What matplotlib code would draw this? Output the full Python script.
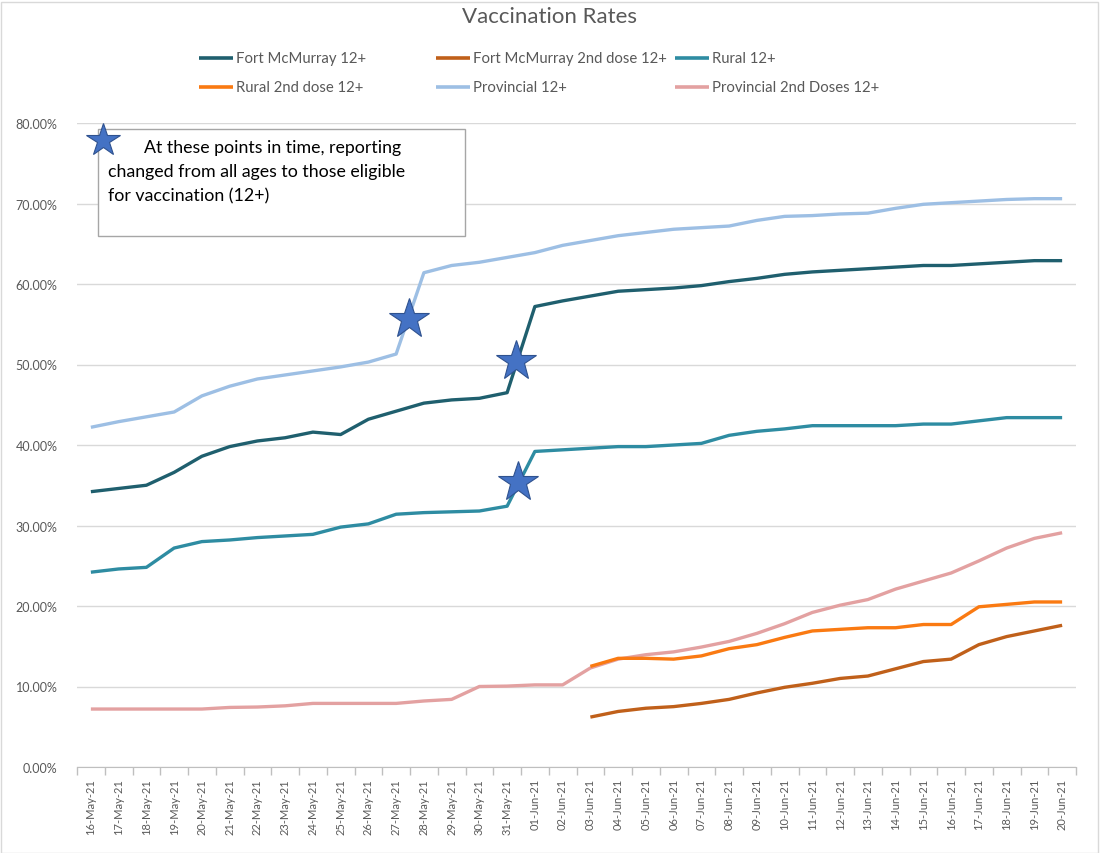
import matplotlib
matplotlib.use("Agg")
import matplotlib.pyplot as plt
from matplotlib.lines import Line2D
from matplotlib.patches import Rectangle
from matplotlib.ticker import FuncFormatter, FixedLocator
import numpy as np

plt.rcParams['font.family'] = ['Lato', 'DejaVu Sans']

dates = ["16-May-21", "17-May-21", "18-May-21", "19-May-21", "20-May-21", "21-May-21",
         "22-May-21", "23-May-21", "24-May-21", "25-May-21", "26-May-21", "27-May-21",
         "28-May-21", "29-May-21", "30-May-21", "31-May-21", "01-Jun-21", "02-Jun-21",
         "03-Jun-21", "04-Jun-21", "05-Jun-21", "06-Jun-21", "07-Jun-21", "08-Jun-21",
         "09-Jun-21", "10-Jun-21", "11-Jun-21", "12-Jun-21", "13-Jun-21", "14-Jun-21",
         "15-Jun-21", "16-Jun-21", "17-Jun-21", "18-Jun-21", "19-Jun-21", "20-Jun-21"]

N = np.nan
fort_mcmurray_12 = [34.2, 34.6, 35.0, 36.6, 38.6, 39.8, 40.5, 40.9, 41.6, 41.3, 43.2, 44.2,
                    45.2, 45.6, 45.8, 46.5, 57.2, 57.9, 58.5, 59.1, 59.3, 59.5, 59.8, 60.3,
                    60.7, 61.2, 61.5, 61.7, 61.9, 62.1, 62.3, 62.3, 62.5, 62.7, 62.9, 62.9]
fort_mcmurray_2nd = [N] * 18 + [6.2, 6.9, 7.3, 7.5, 7.9, 8.4, 9.2, 9.9, 10.4, 11.0, 11.3, 12.2,
                                13.1, 13.4, 15.2, 16.2, 16.9, 17.6]
rural_12 = [24.2, 24.6, 24.8, 27.2, 28.0, 28.2, 28.5, 28.7, 28.9, 29.8, 30.2, 31.4,
            31.6, 31.7, 31.8, 32.4, 39.2, 39.4, 39.6, 39.8, 39.8, 40.0, 40.2, 41.2,
            41.7, 42.0, 42.4, 42.4, 42.4, 42.4, 42.6, 42.6, 43.0, 43.4, 43.4, 43.4]
rural_2nd = [N] * 18 + [12.5, 13.5, 13.5, 13.4, 13.8, 14.7, 15.2, 16.1, 16.9, 17.1, 17.3, 17.3,
                        17.7, 17.7, 19.9, 20.2, 20.5, 20.5]
provincial_12 = [42.2, 42.9, 43.5, 44.1, 46.1, 47.3, 48.2, 48.7, 49.2, 49.7, 50.3, 51.3,
                 61.4, 62.3, 62.7, 63.3, 63.9, 64.8, 65.4, 66.0, 66.4, 66.8, 67.0, 67.2,
                 67.9, 68.4, 68.5, 68.7, 68.8, 69.4, 69.9, 70.1, 70.3, 70.5, 70.6, 70.6]
provincial_2nd = [7.2, 7.2, 7.2, 7.2, 7.2, 7.4, 7.45, 7.6, 7.9, 7.9, 7.9, 7.9,
                  8.2, 8.4, 10.0, 10.05, 10.2, 10.2, 12.3, 13.4, 13.95, 14.3, 14.9, 15.6,
                  16.6, 17.8, 19.2, 20.1, 20.8, 22.1, 23.1, 24.1, 25.6, 27.2, 28.4, 29.1]

series_names = ["Fort McMurray 12+", "Fort McMurray 2nd dose 12+", "Rural 12+",
                "Rural 2nd dose 12+", "Provincial 12+", "Provincial 2nd Doses 12+"]
series_values = [fort_mcmurray_12, fort_mcmurray_2nd, rural_12, rural_2nd,
                 provincial_12, provincial_2nd]
colors = ["#1F5F6E", "#C0601A", "#2E8CA2", "#FA7A12", "#9DBFE4", "#E3A1A1"]

# star annotations (fractional category index, value %)
star_x = [11.47, 15.32, 15.40]
star_y = [55.7, 50.4, 35.4]

note_text = ("        At these points in time, reporting\n"
             "changed from all ages to those eligible\n"
             "for vaccination (12+)")

fig = plt.figure(figsize=(11, 8.54), dpi=100)
ax = fig.add_axes([77 / 1100, 1 - 768 / 854, (1076 - 77) / 1100, (768 - 124) / 854])

x = np.arange(len(dates))
draw_order = [4, 0, 2, 5, 3, 1]
for i in draw_order:
    ax.plot(x, series_values[i], color=colors[i], lw=2.4, solid_capstyle='butt', zorder=3)

ax.plot(star_x, star_y, linestyle='none', marker='*', markersize=30,
        markerfacecolor='#4472C4', markeredgecolor='#2F528F', markeredgewidth=0.8, zorder=5)

ax.set_xlim(-0.5, len(dates) - 0.5)
ax.set_ylim(0, 80)
ax.set_yticks(np.arange(0, 81, 10))
ax.yaxis.set_major_formatter(FuncFormatter(lambda v, p: f"{v:.2f}%"))
ax.grid(axis='y', color='#D9D9D9', lw=1.0)
ax.set_axisbelow(True)

ax.set_xticks(x)
ax.set_xticklabels(dates, rotation=90, fontsize=8, color='#595959')
ax.xaxis.set_minor_locator(FixedLocator(np.arange(-0.5, len(dates), 1.0)))
ax.tick_params(axis='x', which='major', length=0, pad=8)
ax.tick_params(axis='x', which='minor', length=6, color='#BFBFBF', width=1)
ax.tick_params(axis='y', length=0, labelsize=9, labelcolor='#595959', pad=14)
for s in ['top', 'right', 'left']:
    ax.spines[s].set_visible(False)
ax.spines['bottom'].set_color('#BFBFBF')

# title
fig.text(0.5, 1 - 17 / 854, "Vaccination Rates", ha='center', va='center',
         fontsize=16, color='#595959')

# legend (Excel-like fixed columns)
col_x = [199, 436, 675]
row_y = [59, 88]
for k, name in enumerate(series_names):
    r, c = divmod(k, 3)
    x0 = col_x[c] / 1100
    y0 = 1 - row_y[r] / 854
    fig.add_artist(Line2D([x0, x0 + 34 / 1100], [y0, y0], color=colors[k], lw=2.6,
                          transform=fig.transFigure, solid_capstyle='butt'))
    fig.text(x0 + 37 / 1100, y0, name, ha='left', va='center', fontsize=10.7, color='#595959')

# note box
fig.add_artist(Rectangle((98 / 1100, 1 - 237 / 854), (465 - 98) / 1100, (237 - 130) / 854,
                         transform=fig.transFigure, facecolor='white',
                         edgecolor='#A6A6A6', lw=1.0, zorder=6))
fig.text(108 / 1100, 1 - 140 / 854, note_text, ha='left', va='top', fontsize=12.8,
         color='#000000', linespacing=1.62, zorder=7)
fig.add_artist(Line2D([103 / 1100], [1 - 141 / 854], marker='*', markersize=25,
                      markerfacecolor='#4472C4', markeredgecolor='#2F528F',
                      markeredgewidth=0.8, transform=fig.transFigure, zorder=8))

# outer chart border
fig.add_artist(Rectangle((0.5 / 1100, 0.5 / 854), 1 - 3 / 1100, 1 - 3 / 854,
                         transform=fig.transFigure, facecolor='none',
                         edgecolor='#D9D9D9', lw=1.0))

fig.savefig("out.png", dpi=100)
